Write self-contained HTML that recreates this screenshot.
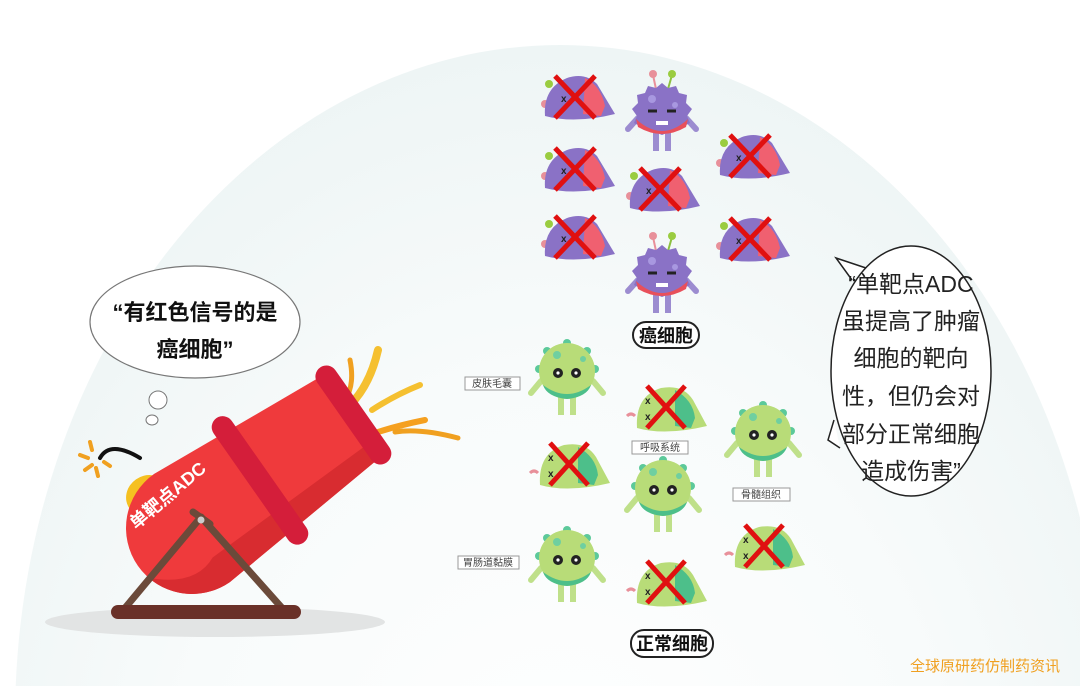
<!DOCTYPE html>
<html><head><meta charset="utf-8"><style>
html,body{margin:0;padding:0;background:#fff;width:1080px;height:686px;overflow:hidden;}
svg{display:block;}
text{font-family:"Liberation Sans","Noto Sans CJK SC",sans-serif;}
</style></head><body>
<svg width="1080" height="686" viewBox="0 0 1080 686" xmlns="http://www.w3.org/2000/svg">
<defs>
<radialGradient id="bg" cx="0.5" cy="0.6" r="0.6">
<stop offset="0" stop-color="#ffffff"/><stop offset="0.6" stop-color="#f8fbfb"/><stop offset="1" stop-color="#eef5f5"/>
</radialGradient>
<symbol id="ca" viewBox="-45 -45 90 95" width="90" height="95" overflow="visible">
<line x1="-6" y1="-24" x2="-9" y2="-38" stroke="#e8909a" stroke-width="2"/><circle cx="-9" cy="-39" r="4" fill="#e8909a"/>
<line x1="6" y1="-24" x2="10" y2="-38" stroke="#8cc040" stroke-width="2"/><circle cx="10" cy="-39" r="4" fill="#9acc40"/>
<rect x="-9" y="18" width="6" height="20" fill="#9c8cd0"/><rect x="3" y="18" width="6" height="20" fill="#9c8cd0"/>
<path d="M-24 5 L-34 16 M24 5 L34 16" stroke="#9c8cd0" stroke-width="6" stroke-linecap="round"/>
<polygon points="0,-30 6,-25 14,-27 17,-20 25,-18 24,-10 30,-4 25,3 28,10 20,14 0,22 -20,14 -28,10 -25,3 -30,-4 -24,-10 -25,-18 -17,-20 -14,-27 -6,-25" fill="#8a72c6"/>
<path d="M-26 6 Q0 30 26 6 L24 14 Q0 28 -24 14Z" fill="#e8505b"/>
<circle cx="-10" cy="-14" r="4" fill="#a898e0"/><circle cx="13" cy="-8" r="3" fill="#a898e0"/>
<path d="M-14 -2 h9 M5 -2 h9" stroke="#222" stroke-width="3"/>
<path d="M-6 8 h12 v4 h-12z" fill="#fff"/>
</symbol>
<symbol id="cd" viewBox="-45 -35 90 70" width="90" height="70" overflow="visible">
<circle cx="-26" cy="-14" r="4" fill="#9acc40"/><circle cx="-30" cy="6" r="4" fill="#e8909a"/>
<path d="M-30 18 Q-32 -10 -8 -20 Q10 -26 22 -14 L40 16 Q0 26 -30 18Z" fill="#8a72c6"/>
<path d="M10 -20 Q26 -12 30 8 L26 18 L8 16Z" fill="#f06070"/>
<path d="M-20 -22 L20 20 M20 -22 L-20 20" stroke="#e01010" stroke-width="5"/>
<text x="-14" y="4" font-size="10" font-weight="bold" fill="#222">x</text>
</symbol>
<symbol id="na" viewBox="-45 -45 90 95" width="90" height="95" overflow="visible">
<rect x="-9" y="20" width="6" height="22" fill="#bfe08a"/><rect x="3" y="20" width="6" height="22" fill="#bfe08a"/>
<path d="M-26 8 L-36 20 M26 8 L36 20" stroke="#bfe08a" stroke-width="6" stroke-linecap="round"/>
<circle cx="0" cy="-30" r="4" fill="#5cc99a"/><circle cx="-20" cy="-22" r="4" fill="#5cc99a"/><circle cx="20" cy="-22" r="4" fill="#5cc99a"/><circle cx="-28" cy="-4" r="4" fill="#5cc99a"/><circle cx="28" cy="-4" r="4" fill="#5cc99a"/>
<circle cx="0" cy="-2" r="28" fill="#b8dc78"/>
<path d="M-24 12 Q0 30 24 12 Q20 24 0 26 Q-20 24 -24 12Z" fill="#4dbf8a"/>
<circle cx="-10" cy="-18" r="4" fill="#6fcfa0"/><circle cx="16" cy="-14" r="3" fill="#6fcfa0"/>
<circle cx="-9" cy="0" r="5" fill="#222"/><circle cx="9" cy="0" r="5" fill="#222"/>
<circle cx="-9" cy="0" r="1.6" fill="#fff"/><circle cx="9" cy="0" r="1.6" fill="#fff"/>
</symbol>
<symbol id="nd" viewBox="-45 -35 90 70" width="90" height="70" overflow="visible">
<path d="M-38 8 Q-34 4 -30 8" stroke="#e8909a" stroke-width="3" fill="none"/>
<path d="M-28 20 Q-30 -12 -4 -20 Q18 -24 28 -8 L42 18 Q0 28 -28 20Z" fill="#b8dc78"/>
<path d="M10 -18 Q28 -8 30 10 L26 20 L10 18Z" fill="#4dbf8a"/>
<path d="M-18 -22 L20 20 M20 -22 L-18 20" stroke="#e01010" stroke-width="5"/>
<text x="-20" y="-4" font-size="10" font-weight="bold" fill="#222">x</text><text x="-20" y="12" font-size="10" font-weight="bold" fill="#222">x</text>
</symbol>
</defs>
<rect width="1080" height="686" fill="#fff"/>
<ellipse cx="560" cy="720" rx="545" ry="675" fill="url(#bg)"/>

<use href="#cd" x="530" y="63"/><use href="#cd" x="530" y="135"/><use href="#cd" x="530" y="203"/>
<use href="#cd" x="615" y="155"/><use href="#cd" x="705" y="122"/><use href="#cd" x="705" y="205"/>
<use href="#ca" x="617" y="68"/><use href="#ca" x="617" y="230"/>
<rect x="633" y="322" width="66" height="26" rx="13" fill="#fff" stroke="#222" stroke-width="2"/>
<text x="666" y="342" font-size="18" font-weight="bold" text-anchor="middle" fill="#111">癌细胞</text>

<use href="#na" x="522" y="328"/><use href="#na" x="618" y="445"/><use href="#na" x="718" y="390"/><use href="#na" x="522" y="515"/>
<use href="#nd" x="523" y="430"/><use href="#nd" x="620" y="373"/><use href="#nd" x="620" y="548"/><use href="#nd" x="718" y="512"/>
<g font-size="10" fill="#444" text-anchor="middle">
<rect x="465" y="377" width="55" height="13" fill="#fff" stroke="#999"/><text x="492" y="387">皮肤毛囊</text>
<rect x="632" y="441" width="56" height="13" fill="#fff" stroke="#999"/><text x="660" y="451">呼吸系统</text>
<rect x="733" y="488" width="57" height="13" fill="#fff" stroke="#999"/><text x="761" y="498">骨髓组织</text>
<rect x="458" y="556" width="61" height="13" fill="#fff" stroke="#999"/><text x="488" y="566">胃肠道黏膜</text>
</g>
<rect x="631" y="630" width="82" height="27" rx="13" fill="#fff" stroke="#222" stroke-width="2"/>
<text x="672" y="650" font-size="18" font-weight="bold" text-anchor="middle" fill="#111">正常细胞</text>

<ellipse cx="195" cy="322" rx="105" ry="56" fill="#fff" stroke="#777" stroke-width="1.2"/>
<circle cx="158" cy="400" r="9" fill="#fff" stroke="#777"/>
<ellipse cx="152" cy="420" rx="6" ry="5" fill="#fff" stroke="#777"/>
<text x="195" y="320" font-size="22" font-weight="bold" text-anchor="middle" fill="#111">“有红色信号的是</text>
<text x="195" y="357" font-size="22" font-weight="bold" text-anchor="middle" fill="#111">癌细胞”</text>

<path d="M852 280 L836 258 L866 268" fill="#fff" stroke="#222" stroke-width="1.5"/>
<path d="M834 420 L828 440 L840 448" fill="#fff" stroke="#222" stroke-width="1.5"/>
<ellipse cx="911" cy="371" rx="80" ry="125" fill="#fff" stroke="#222" stroke-width="1.5"/>
<g font-size="23" text-anchor="middle" fill="#222">
<text x="911" y="292">“单靶点ADC</text>
<text x="911" y="329">虽提高了肿瘤</text>
<text x="911" y="366">细胞的靶向</text>
<text x="911" y="404">性，但仍会对</text>
<text x="911" y="442">部分正常细胞</text>
<text x="911" y="479">造成伤害”</text>
</g>

<ellipse cx="215" cy="622" rx="170" ry="15" fill="#e2e4e4"/>
<path d="M140 458 Q110 440 100 458" stroke="#111" stroke-width="4" fill="none" stroke-linecap="round"/>
<g stroke="#f0a020" stroke-width="4" stroke-linecap="round">
<line x1="90" y1="442" x2="92" y2="450"/><line x1="80" y1="455" x2="88" y2="458"/><line x1="85" y1="470" x2="92" y2="465"/><line x1="96" y1="468" x2="98" y2="476"/><line x1="104" y1="462" x2="110" y2="466"/>
</g>
<g stroke-linecap="round" fill="none">
<path d="M350 360 Q355 385 345 400" stroke="#f0a020" stroke-width="5"/>
<path d="M378 350 Q370 385 350 405" stroke="#f5c030" stroke-width="8"/>
<path d="M420 385 Q395 395 372 410" stroke="#f5c030" stroke-width="6"/>
<path d="M425 420 Q400 425 378 432" stroke="#f5a020" stroke-width="6"/>
<path d="M458 438 Q420 428 395 432" stroke="#f0a020" stroke-width="5"/>
</g>
<g transform="translate(192,528) rotate(-35)">
<ellipse cx="-18" cy="-52" rx="22" ry="20" fill="#f5c020"/>
<path d="M0 -66 L195 -50 L195 50 L0 66 A66 66 0 0 1 0 -66Z" fill="#ef3a3c"/>
<path d="M0 36 L195 32 L195 50 L0 66 A66 66 0 0 1 -64 16 Q-30 50 0 36Z" fill="#d82c30"/>
<rect x="72" y="-76" width="22" height="152" rx="11" fill="#d41e3a"/>
<rect x="186" y="-58" width="22" height="116" rx="11" fill="#d41e3a"/>
</g>
<g stroke="#6b4a3a" stroke-width="7" stroke-linecap="round">
<line x1="201" y1="517" x2="125" y2="608"/><line x1="201" y1="517" x2="282" y2="608"/>
<line x1="193" y1="512" x2="210" y2="524"/>
</g>
<circle cx="201" cy="520" r="3.5" fill="#ccc"/>
<rect x="111" y="605" width="190" height="14" rx="7" fill="#6a3128"/>
<text x="0" y="0" font-size="18" font-weight="bold" fill="#fff" transform="translate(136,530) rotate(-40)">单靶点ADC</text>

<text x="1060" y="671" font-size="15" text-anchor="end" fill="#f0a020">全球原研药仿制药资讯</text>
</svg>
</body></html>
